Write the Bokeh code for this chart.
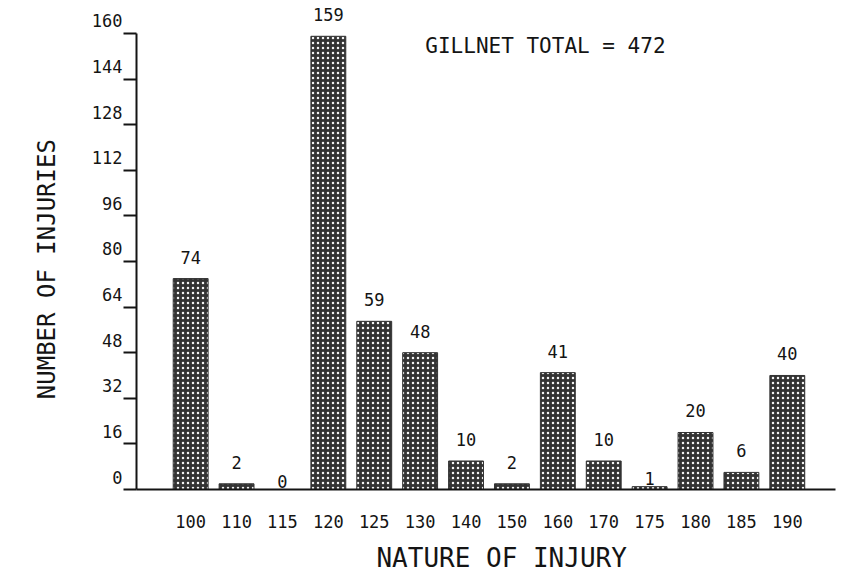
from bokeh.plotting import figure
from bokeh.models import ColumnDataSource, Range1d, FixedTicker, Label, LabelSet
from bokeh.embed import file_html
from bokeh.resources import INLINE
from bokeh.core.properties import value

# ---- data ----
injury_codes = ["100", "110", "115", "120", "125", "130", "140", "150",
                "160", "170", "175", "180", "185", "190"]
injury_counts = [74, 2, 0, 159, 59, 48, 10, 2, 41, 10, 1, 20, 6, 40]
y_ticks = [0, 16, 32, 48, 64, 80, 96, 112, 128, 144, 160]
total_text = "GILLNET TOTAL = 472"
x_title = "NATURE OF INJURY"
y_title = "NUMBER OF INJURIES"

FONT = "DejaVu Sans Mono"
INK = "#141414"

X_START, X_END = -1.18, 14.05
Y_START, Y_END = 0, 169.8   # headroom above the 160 tick for the value label

xs = list(range(len(injury_codes)))
offsets = [2 if v <= 1 else 15 for v in injury_counts]
src = ColumnDataSource(dict(
    x=xs,
    top=injury_counts,
    label=[str(v) for v in injury_counts],
    yoff=offsets,
))

p = figure(width=855, height=576, output_backend="svg", toolbar_location=None,
           x_range=Range1d(X_START, X_END), y_range=Range1d(Y_START, Y_END),
           min_border_left=136, min_border_right=20,
           min_border_top=5, min_border_bottom=87)
p.outline_line_color = None
p.grid.visible = False
p.background_fill_color = "white"
p.border_fill_color = "white"

p.vbar(x="x", top="top", bottom=0, width=0.76, source=src,
       fill_color="#333333", line_color="#333333", line_width=1,
       hatch_pattern="dot", hatch_color="#f4f4f4", hatch_scale=5,
       hatch_weight=1)

# value labels over the bars
p.add_layout(LabelSet(x="x", y="top", text="label", source=src, y_offset="yoff",
                      text_align="center", text_baseline="bottom",
                      text_font=value(FONT), text_font_size="17px",
                      text_color=INK))

# x axis
xa = p.xaxis[0]
xa.ticker = FixedTicker(ticks=xs)
xa.major_label_overrides = {i: c for i, c in zip(xs, injury_codes)}
xa.major_tick_out = 0
xa.major_tick_in = 0
xa.minor_tick_out = 0
xa.minor_tick_in = 0
xa.major_label_standoff = 25
xa.axis_line_width = 2
xa.axis_line_color = INK
xa.axis_label = "\u00a0\u00a0" + x_title   # nudged right of centre as in the original
xa.axis_label_standoff = 12
xa.axis_label_text_font_size = "26px"

# y axis (labels sit above their ticks: a trailing blank line lifts them)
ya = p.yaxis[0]
ya.ticker = FixedTicker(ticks=y_ticks)
ya.bounds = (y_ticks[0], y_ticks[-1])
ya.major_label_overrides = {t: f"{t}\n" for t in y_ticks}
ya.major_tick_out = 13
ya.major_tick_in = 0
ya.minor_tick_out = 0
ya.minor_tick_in = 0
ya.major_tick_line_width = 2
ya.major_tick_line_color = INK
ya.major_label_standoff = 1
ya.axis_label = y_title + "\u00a0\u00a0\u00a0"   # centred on the 0-160 span, not the frame
ya.axis_label_standoff = 28
ya.axis_line_width = 2
ya.axis_line_color = INK
ya.axis_label_text_font_size = "24px"

for ax in (xa, ya):
    ax.major_label_text_font = FONT
    ax.major_label_text_font_size = "17px"
    ax.major_label_text_color = INK
    ax.axis_label_text_font = FONT
    ax.axis_label_text_font_style = "normal"
    ax.axis_label_text_color = INK

p.add_layout(Label(x=7.73, y=155.5, text=total_text, text_align="center",
                   text_baseline="middle", text_font=FONT,
                   text_font_size="21px", text_color=INK))

open("out.html", "w").write(file_html(p, INLINE))
